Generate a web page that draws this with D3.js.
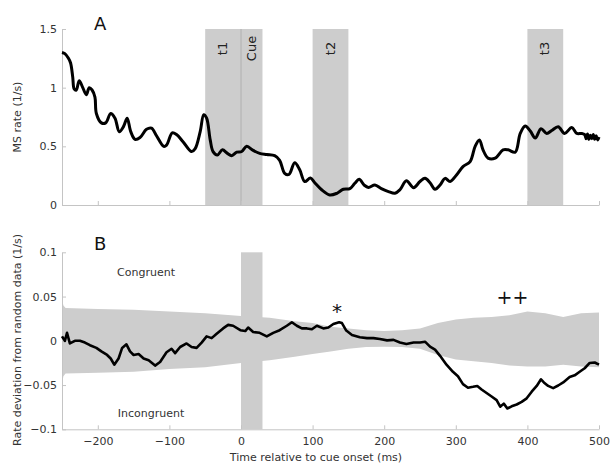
<!DOCTYPE html>
<html>
<head>
<meta charset="utf-8">
<script src="https://cdn.jsdelivr.net/npm/d3@7"></script>
<style>
html,body{margin:0;padding:0;background:#fff;}
svg{display:block;font-family:"DejaVu Sans",Verdana,sans-serif;}
</style>
</head>
<body>
<svg id="chart" width="610" height="463"></svg>
<script>
// ---------- Data ----------
// Panel A: microsaccade rate (1/s) vs time relative to cue onset (ms)
const timeA = [-250,-246,-241,-238,-235,-233,-230,-226,-221,-216,-212,-208,-204,-202,-195,-189,-182,-176,-170,-164,-159,-154,-148,-141,-132,-125,-118,-108,-104,-96,-90,-81,-69,-64,-57,-52,-48,-43,-39,-33,-26,-19,-13,-6,1,8,17,26,36,47,54,61,67,75,82,89,97,103,113,124,134,143,152,159,165,172,178,187,196,206,215,222,231,241,250,257,264,271,278,285,292,301,310,320,327,333,338,345,355,366,373,383,390,397,404,411,419,427,434,443,452,462,469,476,480,482,484,486,488,490,492,494,496,498,500];
const rateA = [1.30,1.29,1.25,1.21,1.09,0.99,0.98,1.06,1.00,0.94,1.00,0.98,0.92,0.78,0.70,0.70,0.78,0.74,0.625,0.67,0.74,0.625,0.56,0.575,0.645,0.655,0.59,0.50,0.51,0.615,0.60,0.54,0.455,0.48,0.625,0.77,0.74,0.555,0.455,0.426,0.47,0.44,0.42,0.45,0.456,0.50,0.465,0.44,0.43,0.42,0.38,0.27,0.26,0.36,0.30,0.20,0.23,0.19,0.128,0.085,0.10,0.134,0.14,0.185,0.219,0.17,0.15,0.17,0.14,0.114,0.10,0.13,0.207,0.148,0.20,0.227,0.19,0.134,0.17,0.227,0.20,0.256,0.327,0.37,0.50,0.554,0.47,0.40,0.40,0.47,0.47,0.45,0.61,0.673,0.63,0.57,0.65,0.61,0.635,0.667,0.61,0.66,0.61,0.61,0.60,0.565,0.605,0.56,0.595,0.565,0.60,0.56,0.59,0.555,0.58];

// Shaded epochs in panel A (ms)
const epochLabels = ["t1","Cue","t2","t3"];
const epochStart  = [-50, 0, 100, 400];
const epochEnd    = [0, 30, 150, 450];

// Panel B: rate deviation from random data (1/s)
const timeB = [-250,-246,-243,-239,-232,-225,-218,-211,-202,-195,-187,-182,-177,-171,-166,-160,-155,-150,-143,-136,-129,-120,-113,-104,-97,-92,-85,-76,-69,-62,-55,-48,-41,-34,-25,-18,-11,-1,6,10,17,26,36,45,54,64,71,78,85,92,99,106,115,122,129,137,141,147,155,166,176,185,194,204,213,222,231,241,250,257,264,271,278,287,296,303,310,317,324,330,336,343,350,357,362,367,372,378,385,392,399,406,413,419,423,429,436,443,450,459,466,473,480,487,494,500];
const devB = [0.005,0.0,0.009,-0.003,0.0,0.0,-0.002,-0.005,-0.008,-0.012,-0.016,-0.02,-0.027,-0.02,-0.008,-0.004,-0.012,-0.016,-0.015,-0.02,-0.022,-0.028,-0.024,-0.013,-0.009,-0.014,-0.007,-0.003,-0.007,-0.008,-0.002,0.005,0.003,0.008,0.014,0.018,0.017,0.012,0.011,0.015,0.01,0.009,0.005,0.009,0.012,0.017,0.021,0.017,0.014,0.014,0.013,0.017,0.014,0.015,0.019,0.021,0.02,0.0116,0.0066,0.004,0.003,0.003,0.002,0.0005,0.001,-0.002,-0.0036,-0.002,-0.002,-0.001,-0.0066,-0.010,-0.017,-0.027,-0.035,-0.04,-0.049,-0.053,-0.052,-0.051,-0.055,-0.059,-0.063,-0.067,-0.0745,-0.071,-0.0765,-0.074,-0.072,-0.069,-0.065,-0.0575,-0.051,-0.0435,-0.047,-0.051,-0.0535,-0.0505,-0.047,-0.041,-0.039,-0.035,-0.031,-0.025,-0.0245,-0.027];

// Panel B: random-data confidence band
const timeBand  = [-250,-248,-245,-200,-150,-100,-50,0,40,75,100,125,150,175,200,225,250,275,300,325,350,375,400,425,450,475,500];
const bandUpper = [0.046,0.040,0.037,0.036,0.035,0.033,0.031,0.028,0.026,0.022,0.020,0.016,0.014,0.012,0.011,0.012,0.014,0.020,0.024,0.026,0.027,0.029,0.033,0.031,0.027,0.031,0.032];
const bandLower = [-0.048,-0.040,-0.037,-0.036,-0.035,-0.032,-0.030,-0.025,-0.022,-0.018,-0.015,-0.012,-0.009,-0.007,-0.0066,-0.007,-0.009,-0.016,-0.021,-0.023,-0.025,-0.028,-0.029,-0.029,-0.027,-0.029,-0.030];

// Cue epoch in panel B
const cueB = [0, 30];

const xTicks = [-200,-100,0,100,200,300,400,500];
const yTicksA = [0,0.5,1,1.5];
const yTicksB = [-0.1,-0.05,0,0.05,0.1];

// ---------- Drawing ----------
const svg = d3.select("#chart");
const axisColor = "#c4c4c4";
const textColor = "#333";
const shade = "#cdcdcd";

const x = d3.scaleLinear().domain([-250,500]).range([62,599]);
const yA = d3.scaleLinear().domain([0,1.5]).range([205,29]);
const yB = d3.scaleLinear().domain([-0.1,0.1]).range([429.3,252.3]);

// Panel A shaded epochs
const gA = svg.append("g");
gA.selectAll("rect.ep").data(epochLabels).enter().append("rect")
  .attr("x", (d,i)=>x(epochStart[i]))
  .attr("width", (d,i)=>x(epochEnd[i])-x(epochStart[i]))
  .attr("y", yA(1.5)).attr("height", yA(0)-yA(1.5))
  .attr("fill", shade);
gA.append("line").attr("x1",x(0)).attr("x2",x(0)).attr("y1",yA(1.5)).attr("y2",yA(0))
  .attr("stroke","#b0b0b0").attr("stroke-width",1);
gA.selectAll("text.ep").data(epochLabels).enter().append("text")
  .attr("transform",(d,i)=>`translate(${(x(epochStart[i])+x(epochEnd[i]))/2+4},48.5) rotate(-90)`)
  .attr("text-anchor","middle").attr("font-size",13).attr("fill","#222").text(d=>d);

// Axes A
function styleAxis(g){
  g.selectAll(".domain").attr("stroke",axisColor);
  g.selectAll(".tick line").attr("stroke",axisColor);
  g.selectAll(".tick text").attr("fill",textColor).attr("font-size",11).attr("font-family","DejaVu Sans, Verdana, sans-serif");
}
const axA = svg.append("g").attr("transform","translate(0,205)")
  .call(d3.axisBottom(x).tickValues(xTicks).tickSizeInner(-4).tickSizeOuter(0).tickFormat(""));
styleAxis(axA);
const ayA = svg.append("g").attr("transform","translate(62,0)")
  .call(d3.axisLeft(yA).tickValues(yTicksA).tickSizeInner(-4).tickSizeOuter(0).tickPadding(5).tickFormat(d3.format("")));
styleAxis(ayA);

// Line A
svg.append("path").datum(timeA.map((t,i)=>[t,rateA[i]]))
  .attr("d", d3.line().x(d=>x(d[0])).y(d=>yA(d[1])).curve(d3.curveCatmullRom.alpha(0.5)))
  .attr("fill","none").attr("stroke","#000").attr("stroke-width",3).attr("stroke-linejoin","round");

svg.append("text").attr("x",94).attr("y",30).attr("font-size",18).attr("fill","#111").text("A");
svg.append("text").attr("transform","translate(21,117) rotate(-90)").attr("text-anchor","middle")
  .attr("font-size",11).attr("fill",textColor).text("MS rate (1/s)");

// Panel B band
svg.append("path").datum(timeBand.map((t,i)=>[t,bandUpper[i],bandLower[i]]))
  .attr("d", d3.area().x(d=>x(d[0])).y0(d=>yB(d[2])).y1(d=>yB(d[1])))
  .attr("fill", shade);
svg.append("rect").attr("x",x(cueB[0])).attr("width",x(cueB[1])-x(cueB[0]))
  .attr("y",yB(0.1)).attr("height",yB(-0.1)-yB(0.1)).attr("fill",shade);

const axB = svg.append("g").attr("transform","translate(0,429.3)")
  .call(d3.axisBottom(x).tickValues(xTicks).tickSizeInner(-4).tickSizeOuter(0).tickPadding(8).tickFormat(d3.format("")));
styleAxis(axB);
const ayB = svg.append("g").attr("transform","translate(62,0)")
  .call(d3.axisLeft(yB).tickValues(yTicksB).tickSizeInner(-4).tickSizeOuter(0).tickPadding(5).tickFormat(d3.format("")));
styleAxis(ayB);

svg.append("path").datum(timeB.map((t,i)=>[t,devB[i]]))
  .attr("d", d3.line().x(d=>x(d[0])).y(d=>yB(d[1])))
  .attr("fill","none").attr("stroke","#000").attr("stroke-width",2.6).attr("stroke-linejoin","round");

svg.append("text").attr("x",94).attr("y",250).attr("font-size",18).attr("fill","#111").text("B");
svg.append("text").attr("x",146).attr("y",275.5).attr("text-anchor","middle").attr("font-size",11).attr("fill",textColor).text("Congruent");
svg.append("text").attr("x",151).attr("y",417).attr("text-anchor","middle").attr("font-size",11).attr("fill",textColor).text("Incongruent");
svg.append("text").attr("x",337).attr("y",318).attr("text-anchor","middle").attr("font-size",20).attr("fill","#111").text("*");
svg.append("text").attr("x",512.5).attr("y",304).attr("text-anchor","middle").attr("font-size",19).attr("fill","#111").text("++");

svg.append("text").attr("transform","translate(21,340) rotate(-90)").attr("text-anchor","middle")
  .attr("font-size",11).attr("fill",textColor).text("Rate deviation from random data (1/s)");
svg.append("text").attr("x",316).attr("y",461).attr("text-anchor","middle")
  .attr("font-size",11).attr("fill",textColor).text("Time relative to cue onset (ms)");
</script>
</body>
</html>
